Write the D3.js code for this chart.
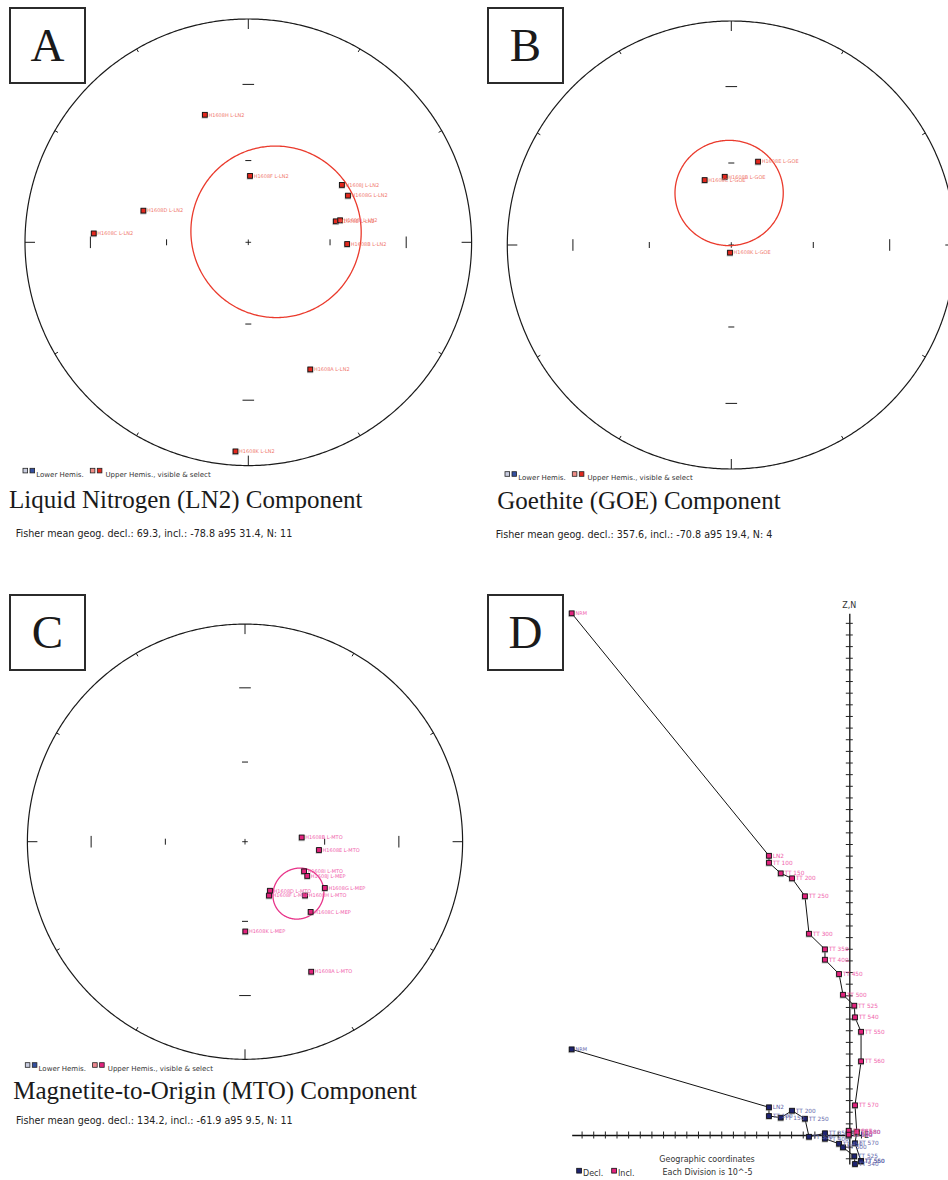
<!DOCTYPE html>
<html>
<head>
<meta charset="utf-8">
<script src="https://cdn.jsdelivr.net/npm/d3@7"></script>
<style>
  body { margin: 0; background: #fff; }
  svg { display: block; }
</style>
</head>
<body>
<svg id="fig" width="948" height="1180"></svg>
<script>
// ---------- Panel A: liquid nitrogen (LN2) component, specimen directions ----------
const lnLabels = ["H1608A L-LN2", "H1608B L-LN2", "H1608C L-LN2", "H1608D L-LN2", "H1608E L-LN2",
                  "H1608F L-LN2", "H1608G L-LN2", "H1608H L-LN2", "H1608I L-LN2", "H1608J L-LN2", "H1608K L-LN2"];
const lnDec = [154.0, 91.0, 273.3, 286.8, 76.5, 1.5, 64.9, 341.2, 76.5, 58.5, 183.5];
const lnInc = [-36.8, -53.5, -31.3, -49.4, -56.9, -65.7, -49.2, -39.5, -55.2, -49.3, -6.9];
const lnFisher = [69.3, -78.8, 31.4, 11];   // decl, incl, a95, N

// ---------- Panel B: goethite (GOE) component ----------
const goeLabels = ["H1608E L-GOE", "H1608B L-GOE", "H1608C L-GOE", "H1608K L-GOE"];
const goeDec = [17.8, 354.5, 337.7, 189.6];
const goeInc = [-57.9, -65.0, -64.4, -87.2];
const goeFisher = [357.6, -70.8, 19.4, 4];

// ---------- Panel C: magnetite-to-origin (MTO) component ----------
const mtoLabels = ["H1608B L-MTO", "H1608E L-MTO", "H1608I L-MTO", "H1608J L-MEP", "H1608G L-MEP",
                   "H1608D L-MTO", "H1608F L-MEP", "H1608H L-MTO", "H1608C L-MEP", "H1608K L-MEP", "H1608A L-MTO"];
const mtoDec = [85.7, 96.4, 116.6, 118.8, 120.1, 153.0, 156.0, 131.8, 136.9, 179.8, 153.0];
const mtoInc = [-68.7, -62.0, -65.2, -63.3, -55.1, -69.4, -67.9, -59.6, -53.6, -56.1, -33.4];
const mtoFisher = [134.2, -61.9, 9.5, 11];

// ---------- Panel D: orthogonal demagnetization diagram (units of 1e-5) ----------
const demagSteps = ["NRM", "LN2", "TT 100", "TT 150", "TT 200", "TT 250", "TT 300", "TT 350", "TT 400",
                    "TT 450", "TT 500", "TT 525", "TT 540", "TT 550", "TT 560", "TT 570", "TT 580", "TT 585", "TT 590"];
const demagEast  = [-23.85, -6.90, -6.90, -5.89, -4.92, -3.81, -3.46, -2.09, -2.09,
                    -0.88, -0.54, 0.43, 0.49, 1.01, 1.01, 0.49, 0.64, -0.05, -0.05];
const demagNorth = [7.36, 2.38, 1.63, 1.49, 2.09, 1.40, -0.15, 0.15, -0.32,
                    -0.75, -1.06, -1.83, -2.49, -2.23, -2.26, -0.71, 0.22, 0.12, -0.05];
const demagUp    = [44.82, 23.99, 23.39, 22.48, 22.05, 20.51, 17.29, 15.95, 15.06,
                    13.83, 12.05, 11.11, 10.11, 8.87, 6.33, 2.55, 0.28, 0.37, 0.03];

const svg = d3.select("#fig");
const SANS = "'DejaVu Sans', Verdana, sans-serif";
const SERIF = "'Liberation Serif', 'Times New Roman', serif";

const RED = { fill: "#e3281e", text: "#f07a70", circle: "#ea3a2c", pale: "#ef8c86" };
const PINK = { fill: "#e2237d", text: "#f062ac", circle: "#e8358a", pale: "#ef8890" };
const NAVY = { fill: "#1e2370", text: "#6266aa" };

function marker(g, px, py, fill) {
  g.append("rect").attr("x", px - 3.3).attr("y", py - 2.4).attr("width", 6.2).attr("height", 6.2)
    .attr("fill", "#8f8f8f").attr("opacity", 0.55);
  g.append("rect").attr("x", px - 2.4).attr("y", py - 2.4).attr("width", 4.8).attr("height", 4.8)
    .attr("fill", fill).attr("stroke", "#111").attr("stroke-width", 0.9);
}

function letterBox(x, y, letter) {
  svg.append("rect").attr("x", x).attr("y", y).attr("width", 75).attr("height", 75)
    .attr("fill", "#fff").attr("stroke", "#2b2b2b").attr("stroke-width", 2);
  svg.append("text").attr("x", x + 37.5).attr("y", y + 52.5).attr("text-anchor", "middle")
    .attr("font-family", SERIF).attr("font-size", 47).attr("fill", "#1a1a1a").text(letter);
}

function legend(x, y, upperColors) {
  const g = svg.append("g").attr("font-family", SANS).attr("font-size", 7).attr("fill", "#333");
  const sq = (sx, c) => g.append("rect").attr("x", sx).attr("y", y).attr("width", 4.6).attr("height", 4.6)
    .attr("fill", c).attr("stroke", "#222").attr("stroke-width", 0.8);
  sq(x, "#c9cde0"); sq(x + 7, "#3550a0");
  g.append("text").attr("x", x + 13.3).attr("y", y + 8.3).text("Lower Hemis.");
  sq(x + 67.3, upperColors[0]); sq(x + 74.3, upperColors[1]);
  g.append("text").attr("x", x + 82.5).attr("y", y + 8.3).text("Upper Hemis., visible & select");
}

function stereonet(layout, labels, dec, inc, fisher, colors) {
  const g = svg.append("g");
  const { cx, cy, R } = layout;
  const proj = d3.geoAzimuthalEqualArea()
    .rotate([0, -90])
    .scale(R / Math.SQRT2)
    .translate([cx, cy])
    .precision(0.05);
  const path = d3.geoPath(proj);
  // declination measured clockwise from north, plotted by |inclination|
  const ll = (d, i) => [180 - d, Math.abs(i)];

  // primitive circle
  g.append("path").datum(d3.geoCircle().center([0, 90]).radius(90).precision(0.5)())
    .attr("d", path).attr("fill", "none").attr("stroke", "#1a1a1a").attr("stroke-width", 1.2);

  // perimeter ticks every 30 degrees of declination
  d3.range(0, 360, 30).forEach(d => {
    const p = proj(ll(d, 0));
    const ux = (cx - p[0]) / R, uy = (cy - p[1]) / R;
    const len = d % 90 === 0 ? 10 : 3.5;
    g.append("line").attr("x1", p[0]).attr("y1", p[1])
      .attr("x2", p[0] + ux * len).attr("y2", p[1] + uy * len)
      .attr("stroke", "#1a1a1a").attr("stroke-width", 1);
  });

  // inclination ticks (30 and 60 degrees) along the four axes
  [0, 90, 180, 270].forEach(d => [30, 60].forEach(i => {
    const p = proj(ll(d, i));
    const half = i === 30 ? 5.8 : 3;
    const vertical = d === 90 || d === 270;
    g.append("line")
      .attr("x1", vertical ? p[0] : p[0] - half).attr("x2", vertical ? p[0] : p[0] + half)
      .attr("y1", vertical ? p[1] - half : p[1]).attr("y2", vertical ? p[1] + half : p[1])
      .attr("stroke", "#1a1a1a").attr("stroke-width", 1);
  }));

  // centre cross
  g.append("path").attr("d", `M${cx - 2.8},${cy}H${cx + 2.8}M${cx},${cy - 2.8}V${cy + 2.8}`)
    .attr("stroke", "#1a1a1a").attr("stroke-width", 0.9);

  // a95 confidence circle about the Fisher mean
  g.append("path")
    .datum(d3.geoCircle().center(ll(fisher[0], fisher[1])).radius(fisher[2]).precision(1)())
    .attr("d", path).attr("fill", "none").attr("stroke", colors.circle).attr("stroke-width", 1.3);

  // specimen directions
  dec.forEach((d, k) => {
    const p = proj(ll(d, inc[k]));
    marker(g, p[0], p[1], colors.fill);
  });
  dec.forEach((d, k) => {
    const p = proj(ll(d, inc[k]));
    g.append("text").attr("x", p[0] + 3.6).attr("y", p[1] + 1.8)
      .attr("font-family", SANS).attr("font-size", 5).attr("fill", colors.text).text(labels[k]);
  });
}

function captions(tx, ty, title, fx, fy, fisher) {
  svg.append("text").attr("x", tx).attr("y", ty).attr("font-family", SERIF).attr("font-size", 25)
    .attr("fill", "#1a1a1a").text(title);
  svg.append("text").attr("x", fx).attr("y", fy).attr("font-family", SANS).attr("font-size", 9.6)
    .attr("fill", "#222")
    .text(`Fisher mean geog. decl.: ${fisher[0].toFixed(1)}, incl.: ${fisher[1].toFixed(1)} a95 ${fisher[2].toFixed(1)}, N: ${fisher[3]}`);
}

// ---- A ----
stereonet({ cx: 248.3, cy: 242.3, R: 223.3 }, lnLabels, lnDec, lnInc, lnFisher, RED);
legend(23, 468.3, [RED.pale, RED.fill]);
captions(9, 508.3, "Liquid Nitrogen (LN2) Component", 15.7, 537.3, lnFisher);
letterBox(10, 8, "A");

// ---- B ----
stereonet({ cx: 731.3, cy: 245, R: 224 }, goeLabels, goeDec, goeInc, goeFisher, RED);
legend(505, 471.7, [RED.pale, RED.fill]);
captions(497.3, 509, "Goethite (GOE) Component", 495.7, 537.7, goeFisher);
letterBox(488, 8, "B");

// ---- C ----
stereonet({ cx: 245, cy: 841.7, R: 217.6 }, mtoLabels, mtoDec, mtoInc, mtoFisher, PINK);
legend(25.3, 1062.7, [PINK.pale, PINK.fill]);
captions(13.3, 1099, "Magnetite-to-Origin (MTO) Component", 16, 1124, mtoFisher);
letterBox(10, 595, "C");

// ---- D: orthogonal vector plot ----
(function () {
  const g = svg.append("g");
  const unit = 11.64, ox = 849.3, oy = 1135;
  const xExt = d3.extent(demagEast);
  const yExt = d3.extent(demagNorth.concat(demagUp));
  const x = d3.scaleLinear().domain(xExt).range(xExt.map(v => ox + v * unit));
  const y = d3.scaleLinear().domain(yExt).range(yExt.map(v => oy - v * unit));

  const intTicks = ext => d3.range(Math.ceil(ext[0]), Math.floor(ext[1]) + 1).filter(v => v !== 0);

  const gx = g.append("g").attr("transform", `translate(0,${y(0)})`)
    .call(d3.axisBottom(x).tickValues(intTicks(xExt)).tickSize(3.5).tickSizeOuter(0).tickFormat(""));
  gx.selectAll(".tick line").attr("y1", -3.5).attr("stroke", "#222");
  gx.select(".domain").attr("stroke", "#111").attr("stroke-width", 1.3);

  const gy = g.append("g").attr("transform", `translate(${x(0)},0)`)
    .call(d3.axisLeft(y).tickValues(intTicks(yExt)).tickSize(3.5).tickSizeOuter(0).tickFormat(""));
  gy.selectAll(".tick line").attr("x1", 3.5).attr("stroke", "#222");
  gy.select(".domain").attr("stroke", "#111").attr("stroke-width", 1.3);

  g.append("text").attr("x", x(0)).attr("y", y(yExt[1]) - 5).attr("text-anchor", "middle")
    .attr("font-family", SANS).attr("font-size", 8).attr("fill", "#333").text("Z,N");
  g.append("text").attr("x", x(xExt[1]) + 3).attr("y", y(0) + 3).attr("font-family", SANS)
    .attr("font-size", 8).attr("fill", "#333").text("E");

  const idx = d3.range(demagSteps.length);
  const declLine = d3.line().x(i => x(demagEast[i])).y(i => y(demagNorth[i]));
  const inclLine = d3.line().x(i => x(demagEast[i])).y(i => y(demagUp[i]));
  g.append("path").attr("d", declLine(idx)).attr("fill", "none").attr("stroke", "#111").attr("stroke-width", 1);
  g.append("path").attr("d", inclLine(idx)).attr("fill", "none").attr("stroke", "#111").attr("stroke-width", 1);

  const series = [[demagNorth, NAVY], [demagUp, PINK]];
  series.forEach(([vals, col]) => {
    idx.forEach(i => marker(g, x(demagEast[i]), y(vals[i]), col.fill));
    idx.forEach(i => g.append("text").attr("x", x(demagEast[i]) + 3.8).attr("y", y(vals[i]) + 1.9)
      .attr("font-family", SANS).attr("font-size", i === 0 ? 5 : 5.8).attr("fill", col.text)
      .text(demagSteps[i]));
  });

  const foot = g.append("g").attr("font-family", SANS).attr("font-size", 8).attr("fill", "#333");
  foot.append("text").attr("x", 707).attr("y", 1162.3).attr("text-anchor", "middle").text("Geographic coordinates");
  foot.append("text").attr("x", 707.5).attr("y", 1175.3).attr("text-anchor", "middle").text("Each Division is 10^-5");
  foot.append("rect").attr("x", 576.7).attr("y", 1168.3).attr("width", 4.8).attr("height", 4.8)
    .attr("fill", NAVY.fill).attr("stroke", "#111").attr("stroke-width", 0.8);
  foot.append("text").attr("x", 583).attr("y", 1175.7).text("Decl.");
  foot.append("rect").attr("x", 611.7).attr("y", 1168.3).attr("width", 4.8).attr("height", 4.8)
    .attr("fill", PINK.fill).attr("stroke", "#111").attr("stroke-width", 0.8);
  foot.append("text").attr("x", 618).attr("y", 1175.7).text("Incl.");
})();
letterBox(488, 595, "D");
</script>
</body>
</html>
